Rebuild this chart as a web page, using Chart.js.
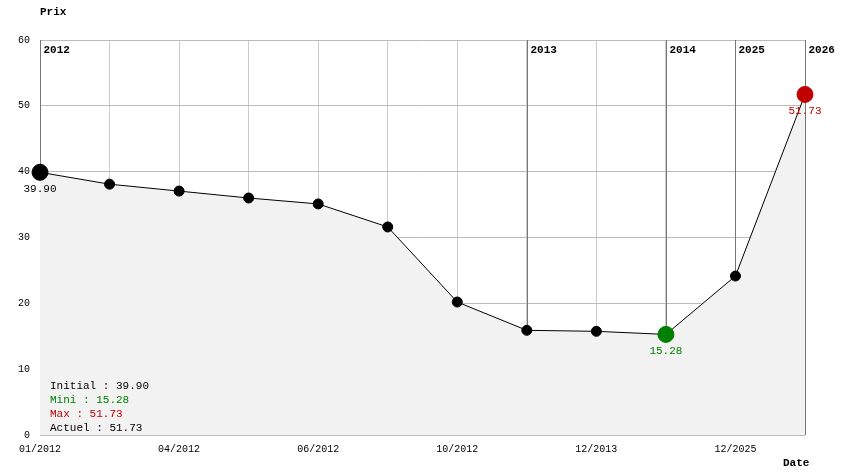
<!DOCTYPE html><html><head><script src="https://cdn.jsdelivr.net/npm/chart.js@4/dist/chart.umd.min.js"></script>
<style>body{margin:0;background:#fff}#w{width:844px;height:474px}</style></head><body><div id="w"><canvas id="c"></canvas></div>
<script>
const categories=["01/2012","02/2012","04/2012","05/2012","06/2012","08/2012","10/2012","01/2013","12/2013","03/2014","12/2025","01/2026"];
const prices=[39.90,38.1,37.05,36.0,35.1,31.6,20.2,15.9,15.75,15.28,24.15,51.73];
const yearIdx=[0,7,9,10,11];
const yearLabels=["2012","2013","2014","2025","2026"];
const tickShown=[0,2,4,6,8,10];
const mono='"Liberation Mono", "DejaVu Sans Mono", monospace';
const iMin=9,iMax=11;
const ptColors=prices.map((v,i)=>i===iMin?'#008000':i===iMax?'#c00000':'#000');
const ptRadius=prices.map((v,i)=>(i===0||i===iMin||i===iMax)?8:5);
const deco={id:'deco',
 beforeDatasetsDraw(ch){const {ctx,chartArea:a,scales:{x}}=ch;ctx.save();ctx.strokeStyle='#777';ctx.lineWidth=1;
  ctx.font='bold 11px '+mono;ctx.fillStyle='#000';ctx.textBaseline='top';
  yearIdx.forEach((k,j)=>{const px=Math.round(x.getPixelForValue(k))+0.5;ctx.beginPath();ctx.moveTo(px,a.top);ctx.lineTo(px,a.bottom);ctx.stroke();ctx.fillText(yearLabels[j],px+3,a.top+5);});
  ctx.restore();},
 afterDatasetsDraw(ch){const {ctx,chartArea:a,scales:{x,y}}=ch;ctx.save();ctx.font='11px '+mono;ctx.textAlign='center';ctx.textBaseline='top';
  [[0,'#000'],[iMin,'#008000'],[iMax,'#c00000']].forEach(([k,c])=>{ctx.fillStyle=c;ctx.fillText(prices[k].toFixed(2),x.getPixelForValue(k),y.getPixelForValue(prices[k])+11);});
  ctx.textAlign='left';ctx.textBaseline='middle';
  const lines=[["Initial : "+prices[0].toFixed(2),'#000'],["Mini : "+prices[iMin].toFixed(2),'#008000'],["Max : "+prices[iMax].toFixed(2),'#c00000'],["Actuel : "+prices[prices.length-1].toFixed(2),'#000']];
  lines.forEach((l,j)=>{ctx.fillStyle=l[1];ctx.fillText(l[0],50,386+j*14);});
  ctx.font='bold 11px '+mono;ctx.fillStyle='#000';ctx.fillText('Prix',40,12);ctx.fillText('Date',783,463);
  ctx.restore();}};
new Chart(document.getElementById('c'),{type:'line',
 data:{labels:categories,datasets:[{data:prices,borderColor:'#000',borderWidth:1,tension:0,fill:true,backgroundColor:'#f2f2f2',
  pointBackgroundColor:ptColors,pointBorderColor:ptColors,pointRadius:ptRadius,pointHoverRadius:ptRadius}]},
 options:{responsive:true,maintainAspectRatio:false,animation:false,
  layout:{padding:{top:40,right:39,left:0,bottom:0}},
  plugins:{legend:{display:false},tooltip:{enabled:false}},
  scales:{
   x:{offset:false,afterFit(s){s.height=39;},grid:{color:'#ccc',drawTicks:false},border:{display:false},
    ticks:{autoSkip:false,maxRotation:0,padding:8,color:'#000',font:{family:mono,size:10},callback:(v,i)=>tickShown.includes(i)?categories[i]:''}},
   y:{min:0,max:60,afterFit(s){s.width=40;},grid:{color:'#bbb',drawTicks:false},border:{display:false},
    ticks:{stepSize:10,padding:10,color:'#000',font:{family:mono,size:10}}}}},
 plugins:[deco]});
</script></body></html>
